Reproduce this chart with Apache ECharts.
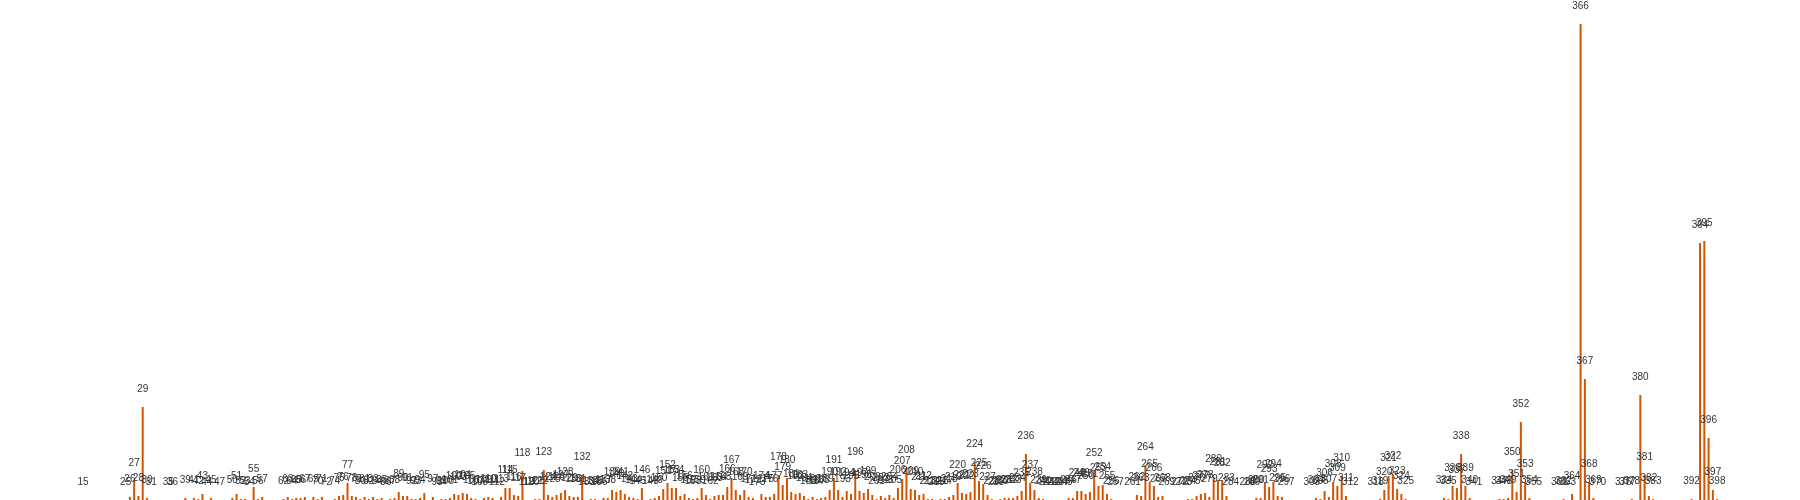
<!DOCTYPE html>
<html>
<head>
<meta charset="utf-8">
<script src="https://cdn.jsdelivr.net/npm/echarts@6/dist/echarts.min.js"></script>
<style>html,body{margin:0;padding:0;background:#fff;}#c{width:1800px;height:500px;}</style>
</head>
<body>
<div id="c"></div>
<script>
// category ids that carry a bar (others are empty)
var ids = [
15,25,26,27,28,29,30,31,35,36,39,41,42,43,44,45,47,50,51,52,53,54,55,56,57,
62,63,64,65,66,67,69,70,71,72,74,75,76,77,78,79,80,81,82,83,84,85,86,87,88,89,90,
91,92,93,94,95,97,98,99,100,101,102,103,104,105,106,107,108,109,110,111,112,113,114,
115,116,117,118,119,120,121,122,123,124,125,126,127,128,129,130,131,132,133,134,135,
136,137,138,139,140,141,142,143,144,145,146,148,149,150,151,152,153,154,155,156,157,
158,159,160,161,162,163,164,165,166,167,168,169,170,171,172,173,174,175,176,177,178,
179,180,181,182,183,184,185,186,187,188,189,190,191,192,193,194,195,196,197,198,199,
200,201,202,203,204,205,206,207,208,209,210,211,212,213,214,215,216,217,218,219,220,
221,222,223,224,225,226,227,228,229,230,231,232,233,234,235,236,237,238,239,240,241,
242,243,244,245,246,247,248,249,250,251,252,253,254,255,256,257,261,262,263,264,265,
266,267,268,269,272,273,274,275,276,277,278,279,280,281,282,283,284,288,289,290,291,
292,293,294,295,296,297,303,304,305,306,307,308,309,310,311,312,318,319,320,321,322,
323,324,325,334,335,336,337,338,339,340,341,347,348,349,350,351,352,353,354,355,361,
362,363,364,366,367,368,369,370,376,377,378,380,381,382,383,392,394,395,396,397,398
];
var counts = [
0,0,3,19,4,93,2,0,0,0,2,2,1,6,0,2,0,2,6,1,1,0,13,1,3,
1,3,1,2,2,3,3,1,3,0,1,4,5,17,4,3,1,3,1,3,1,2,0,1,2,8,4,
4,1,1,2,7,3,0,1,1,2,6,5,7,6,2,1,0,2,3,2,0,3,12,
12,5,4,29,0,0,1,1,30,5,3,5,7,10,4,3,3,25,0,1,1,
0,2,2,10,8,10,6,3,2,1,12,1,2,4,11,17,12,12,4,6,2,
1,2,12,5,1,4,5,5,13,22,10,5,10,3,2,0,6,3,3,6,25,
15,22,8,6,7,4,1,3,1,2,3,10,22,10,3,9,6,30,9,7,11,
5,1,4,2,5,2,12,21,32,11,10,5,6,1,1,0,1,1,3,5,17,
7,6,8,38,19,16,5,1,0,1,2,2,2,4,9,46,17,10,2,1,0,
0,0,0,0,2,2,9,9,6,8,29,14,15,6,1,0,0,5,4,35,18,
14,3,4,0,0,0,1,1,4,6,7,3,23,20,19,4,0,0,0,2,2,
17,13,18,4,3,0,0,2,1,9,3,18,14,24,4,0,0,1,10,24,26,
11,6,1,2,1,14,12,46,14,2,0,1,1,2,30,8,78,18,2,0,0,
1,0,6,476,121,18,2,0,0,0,1,105,25,4,1,1,257,259,62,10,1
];
var points = ids.map(function (id, k) { return [id, counts[k]]; });

var chart = echarts.init(document.getElementById('c'));
chart.setOption({
  animation: false,
  grid: { left: 16.83, right: 76.47, top: 0, bottom: 0 },
  xAxis: { type: 'value', min: -0.5, max: 399.5, show: false },
  yAxis: { type: 'value', min: 0, max: 500, show: false },
  series: [{
    type: 'bar',
    data: points,
    barWidth: 2,
    itemStyle: { color: '#d35400' },
    label: {
      show: true,
      position: 'top',
      distance: 13,
      fontSize: 10,
      color: '#333',
      formatter: function (p) { return p.value[0]; }
    }
  }]
});
</script>
</body>
</html>
